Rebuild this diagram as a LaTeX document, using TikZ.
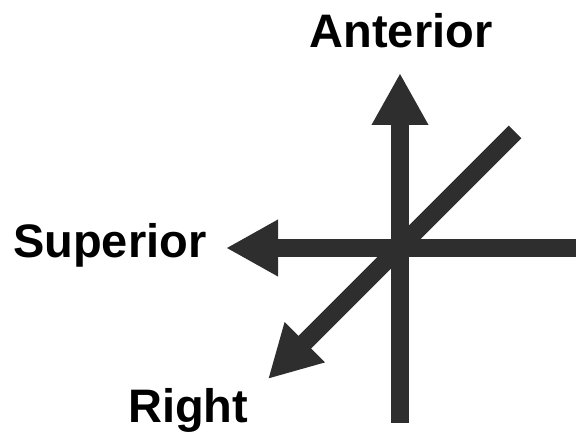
\documentclass[tikz,border=0pt]{standalone}
\usepackage{fontspec}
\setmainfont{Liberation Sans}
\usetikzlibrary{arrows.meta}
\definecolor{axisgray}{HTML}{2E2E2E}
\begin{document}
\begin{tikzpicture}[x=1pt, y=-1pt,
  axis/.style={draw=axisgray, line width=17.7pt, -{Triangle[length=52pt, width=53pt]}, fill=axisgray},
  lbl/.style={font=\fontsize{47}{50}\selectfont\bfseries, inner sep=0pt, text=black}]
  \useasboundingbox (0,0) rectangle (577,443);
  \coordinate (o) at (400,248);
  \coordinate (antTip) at (400,73);
  \coordinate (antEnd) at (400,423);
  \coordinate (supTip) at (226,248);
  \coordinate (supEnd) at (576,248);
  \coordinate (rgtTip) at (268,379);
  \coordinate (rgtEnd) at (515,132);
  \draw[axis] (antEnd) -- (antTip);
  \draw[axis] (supEnd) -- (supTip);
  \draw[axis] (rgtEnd) -- (rgtTip);
  \node[lbl, anchor=base] (ant) at (401,48) {Anterior};
  \node[lbl, anchor=base west] (sup) at (13,257) {Superior};
  \node[lbl, anchor=base west] (rgt) at (128,422) {Right};
\end{tikzpicture}
\end{document}
